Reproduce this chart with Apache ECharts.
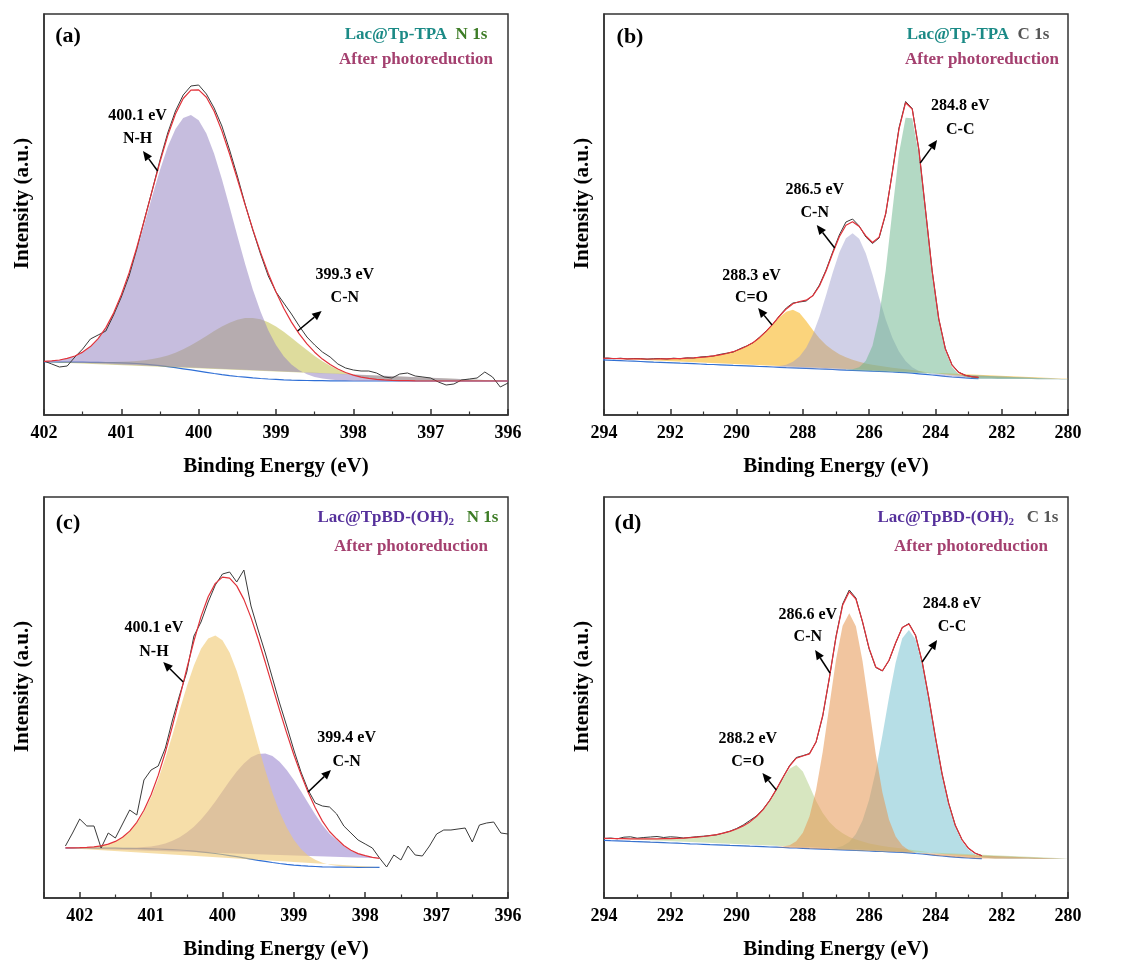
<!DOCTYPE html>
<html>
<head>
<meta charset="utf-8">
<script src="https://cdn.jsdelivr.net/npm/echarts@6/dist/echarts.min.js"></script>
<style>
  html, body { margin: 0; padding: 0; background: #fff; }
  #chart { width: 1121px; height: 963px; }
</style>
</head>
<body>
<div id="chart"></div>
<script>
// ---------- (a) Lac@Tp-TPA, N 1s ----------
const energyA = [402.0,401.9,401.8,401.7,401.6,401.5,401.4,401.3,401.2,401.1,401.0,400.9,400.8,400.7,400.6,400.5,400.4,400.3,400.2,400.1,400.0,399.9,399.8,399.7,399.6,399.5,399.4,399.3,399.2,399.1,399.0,398.9,398.8,398.7,398.6,398.5,398.4,398.3,398.2,398.1,398.0,397.9,397.8,397.7,397.6,397.5,397.4,397.3,397.2,397.1,397.0,396.9,396.8,396.7,396.6,396.5,396.4,396.3,396.2,396.1,396.0];
const rawA = [54,51,48,49,58,66,76,80,84,100,118,139,166,196,225,255,282,304,320,329,330,321,307,289,265,239,211,185,161,139,123,112,101,89,78,70,63,58,51,47,45,44,44,42,38,37,41,42,39,38,37,33,30,31,35,36,37,43,38,28,32];
const fitA = [53.7,54.2,55.0,56.6,59.0,62.9,68.4,76.4,87.4,101.9,120.2,142.1,167.5,195.5,224.6,253.2,279.4,301.0,316.5,324.8,325.1,317.8,303.7,284.1,261.0,236.0,210.4,185.6,162.6,141.6,123.0,106.8,92.9,81.1,71.1,62.8,55.9,50.4,46.0,42.5,39.9,37.9,36.6,35.7,35.1,34.7,34.4,34.3,34.1,34.0,34.0,34.0,34.0,34.0,34.0,34.0,34.0,34.0,34.0,34.0,34.0];
const bgA = [53.0,53.0,52.9,52.9,52.8,52.8,52.7,52.6,52.5,52.4,52.2,51.9,51.5,50.9,50.2,49.4,48.4,47.3,46.2,45.1,43.9,42.7,41.5,40.4,39.4,38.5,37.8,37.1,36.5,36.0,35.6,35.2,34.9,34.7,34.5,34.4,34.3,34.2,34.1,34.1,34.0,34.0,34.0,34.0,34.0,34.0,34.0,34.0,34.0,34.0,34.0,34.0,34.0,34.0,34.0,34.0,34.0,34.0,34.0,34.0,34.0];
const nhA = [53.7,54.2,55.0,56.6,59.0,62.8,68.3,76.2,87.0,101.2,119.1,140.4,164.9,191.6,218.9,245.1,268.2,286.0,297.0,300.1,294.7,281.4,261.3,236.1,208.1,179.2,151.2,125.6,103.4,84.8,70.1,58.8,50.5,44.7,40.7,38.1,36.4,35.4,34.8,34.4,34.2,34.0,34.0,34.0,34.0,34.0,34.0,34.0,34.0,34.0,34.0,34.0,34.0,34.0,34.0,34.0,34.0,34.0,34.0,34.0,34.0];
const cnA = [53.0,53.0,52.9,52.9,52.8,52.8,52.7,52.8,52.9,53.1,53.3,53.6,54.1,54.8,55.9,57.5,59.6,62.3,65.7,69.8,74.3,79.1,83.9,88.4,92.3,95.3,97.0,97.1,95.7,92.8,88.5,83.2,77.3,71.1,64.9,59.1,53.8,49.2,45.3,42.2,39.7,37.9,36.6,35.7,35.1,34.7,34.4,34.3,34.1,34.0,34.0,34.0,34.0,34.0,34.0,34.0,34.0,34.0,34.0,34.0,34.0];

// ---------- (b) Lac@Tp-TPA, C 1s ----------
const energyB = [294.1,293.9,293.7,293.5,293.3,293.1,292.9,292.7,292.5,292.3,292.1,291.9,291.7,291.5,291.3,291.1,290.9,290.7,290.5,290.3,290.1,289.9,289.7,289.5,289.3,289.1,288.9,288.7,288.5,288.3,288.1,287.9,287.7,287.5,287.3,287.1,286.9,286.7,286.5,286.3,286.1,285.9,285.7,285.5,285.3,285.1,284.9,284.7,284.5,284.3,284.1,283.9,283.7,283.5,283.3,283.1,282.9,282.7,282.5,282.3,282.1,281.9,281.7,281.5,281.3,281.1,280.9,280.7,280.5,280.3,280.1,279.9];
const rawB = [56.5,57.0,56.3,56.8,56.0,56.5,56.4,55.8,56.3,56.5,56.0,56.8,56.3,57.2,57.0,58.0,58.5,59.0,60.6,61.8,63.0,66.2,69.0,72.3,78.0,84.3,91.0,99.5,107.0,112.0,113.0,114.0,119.5,130.0,145.0,163.0,180.0,193.0,196.0,189.0,178.0,171.5,177.0,201.0,243.0,287.0,313.5,306.5,265.0,205.0,144.5,96.0,66.3,50.3,42.8,39.8,38.2,37.6];
const fitB = [56.8,56.7,56.5,56.4,56.2,56.2,56.1,56.0,56.0,56.1,56.2,56.3,56.4,56.8,57.1,57.6,58.2,59.1,60.1,61.5,63.3,65.7,68.7,72.6,77.6,83.9,91.1,99.0,106.1,111.2,113.5,114.8,119.2,129.0,144.0,161.7,178.3,189.8,193.3,188.5,179.1,172.5,177.9,201.7,242.3,285.9,312.3,305.9,265.6,205.2,144.1,96.4,65.9,49.9,42.6,39.6,38.4,37.6];
const bgB = [55.1,54.9,54.6,54.3,54.0,53.8,53.5,53.2,52.9,52.7,52.4,52.1,51.8,51.6,51.3,51.0,50.7,50.5,50.2,49.9,49.6,49.4,49.1,48.8,48.5,48.3,48.0,47.7,47.4,47.2,46.9,46.6,46.3,46.0,45.8,45.5,45.2,44.9,44.7,44.4,44.1,43.8,43.6,43.3,43.0,42.7,42.3,41.8,41.2,40.6,40.0,39.3,38.6,38.0,37.6,37.1,36.7,36.3];
const coB = [56.8,56.7,56.5,56.4,56.2,56.2,56.1,56.0,56.0,56.1,56.2,56.3,56.4,56.8,57.1,57.6,58.2,59.1,60.1,61.5,63.3,65.7,68.7,72.6,77.5,83.7,90.6,97.7,103.2,105.2,101.9,94.1,85.0,76.8,70.1,64.9,60.8,57.7,55.3,53.3,51.6,50.3,49.2,48.2,47.3,46.5,45.7,44.9,44.0,43.1,42.3,41.4,40.5,39.8,39.2,38.6,38.1,37.6,37.5,37.3,37.1,37.0,36.9,36.8,36.7,36.6,36.5,36.4,36.3,36.2,36.1,36.1];
const cnB = [55.1,54.9,54.6,54.3,54.0,53.8,53.5,53.2,52.9,52.7,52.4,52.1,51.8,51.6,51.3,51.0,50.7,50.5,50.2,49.9,49.6,49.4,49.1,48.8,48.6,48.5,48.5,49.0,50.3,53.2,58.5,67.3,80.5,98.2,119.7,142.3,162.6,176.7,181.7,176.2,161.5,140.6,117.5,95.5,77.2,63.4,53.9,47.8,44.1,41.9,40.5,39.5,38.6,38.0,37.6,37.1,36.7,36.3,36.3,36.2,36.1,36.1,36.0,36.0,35.9,35.9,35.8,35.8,35.7,35.7,35.6,35.6];
const ccB = [55.1,54.9,54.6,54.3,54.0,53.8,53.5,53.2,52.9,52.7,52.4,52.1,51.8,51.6,51.3,51.0,50.7,50.5,50.2,49.9,49.6,49.4,49.1,48.8,48.5,48.3,48.0,47.7,47.4,47.2,46.9,46.6,46.3,46.0,45.8,45.5,45.2,45.2,45.7,47.8,54.2,69.2,98.4,144.6,203.8,261.4,297.3,296.8,259.9,201.4,141.3,94.1,64.0,48.1,41.0,38.1,37.0,36.3,36.3,36.2,36.1,36.1,36.0,36.0,35.9,35.9,35.8,35.8,35.7,35.7,35.6,35.6];

// ---------- (c) Lac@TpBD-(OH)2, N 1s ----------
const energyC = [402.2,402.1,402.0,401.9,401.8,401.7,401.6,401.5,401.4,401.3,401.2,401.1,401.0,400.9,400.8,400.7,400.6,400.5,400.4,400.3,400.2,400.1,400.0,399.9,399.8,399.7,399.6,399.5,399.4,399.3,399.2,399.1,399.0,398.9,398.8,398.7,398.6,398.5,398.4,398.3,398.2,398.1,398.0,397.9,397.8,397.7,397.6,397.5,397.4,397.3,397.2,397.1,397.0,396.9,396.8,396.7,396.6,396.5,396.4,396.3,396.2,396.1,396.0];
const rawC = [52,65,79,72,72,50,65,60,74,88,83,118,128,132,150,178,203,226,262,276,296,313,324,326,316,328,292,268,245,220,195,172,148,126,108,95,92,91,84,72,65,58,54,50,40,31,43,38,52,43,42,52,64,68,68,69,70,56,73,75,76,65,64];
const fitC = [50.1,50.2,50.4,50.7,51.2,52.2,53.9,56.6,60.8,66.9,75.7,87.7,103.2,122.6,145.7,172.1,200.4,229.4,257.0,281.6,301.3,314.6,320.9,319.9,312.1,298.6,280.4,259.0,235.7,211.7,187.9,164.9,143.3,123.6,105.8,90.3,76.9,66.5,59.2,52.5,47.7,44.4,42.3,40.7,39.7];
const bgC = [50.0,50.0,50.0,50.0,49.9,49.9,49.8,49.8,49.7,49.6,49.5,49.4,49.2,49.0,48.7,48.4,48.0,47.5,46.9,46.2,45.4,44.5,43.5,42.4,41.3,40.1,38.9,37.7,36.6,35.5,34.5,33.6,32.9,32.3,31.8,31.5,31.2,31.0,30.9,30.8,30.8,30.7,30.7,30.7,30.7];
const nhC = [50.1,50.2,50.4,50.7,51.2,52.2,53.8,56.5,60.5,66.4,74.8,86.2,100.8,118.8,139.8,163.3,187.7,211.5,232.6,249.2,259.6,262.5,257.7,245.4,227.0,204.1,178.6,152.6,127.7,105.3,86.1,70.4,58.2,49.1,42.6,38.2,35.2,33.3,32.2,31.5,31.2,30.9,30.8,30.7,30.7];
const cnC = [50.0,50.0,50.0,50.0,49.9,49.9,49.9,50.0,50.0,50.1,50.4,50.9,51.6,52.8,54.6,57.2,60.7,65.4,71.3,78.6,87.1,96.6,106.7,116.9,126.4,134.6,140.7,144.1,144.6,141.9,136.3,128.1,118.0,106.8,95.0,83.6,72.9,64.2,57.9,51.8,47.3,44.2,42.2,40.7,39.7];

// ---------- (d) Lac@TpBD-(OH)2, C 1s ----------
const energyD = [294.0,293.8,293.6,293.4,293.2,293.0,292.8,292.6,292.4,292.2,292.0,291.8,291.6,291.4,291.2,291.0,290.8,290.6,290.4,290.2,290.0,289.8,289.6,289.4,289.2,289.0,288.8,288.6,288.4,288.2,288.0,287.8,287.6,287.4,287.2,287.0,286.8,286.6,286.4,286.2,286.0,285.8,285.6,285.4,285.2,285.0,284.8,284.6,284.4,284.2,284.0,283.8,283.6,283.4,283.2,283.0,282.8,282.6,282.4,282.2,282.0,281.8,281.6,281.4,281.2,281.0,280.8,280.6,280.4,280.2,280.0];
const rawD = [59.5,60.0,59.2,60.8,61.2,59.8,60.5,61.0,61.5,60.5,61.2,60.8,60.0,60.6,61.3,61.8,62.5,63.2,65.0,66.8,69.5,73.0,77.5,82.0,88.8,97.6,108.4,120.5,132.5,140.5,142.3,144.5,156.0,182.0,220.0,261.5,294.0,308.0,300.0,276.0,249.0,230.5,227.0,237.5,255.0,270.5,274.5,262.8,236.0,200.0,160.5,124.0,94.8,72.5,58.5,49.5,44.8,42.3];
const fitD = [59.7,59.5,59.4,59.3,59.2,59.2,59.2,59.1,59.2,59.3,59.4,59.7,59.9,60.3,60.9,61.5,62.3,63.4,64.8,66.6,69.0,72.1,76.1,81.5,88.4,97.5,108.6,120.7,131.9,139.8,142.0,144.1,156.3,182.5,220.2,260.9,292.7,306.3,299.0,276.4,249.6,231.0,227.2,237.7,255.2,270.4,274.1,262.5,236.4,200.4,160.8,124.4,94.6,72.7,58.4,49.7,44.8,42.3];
const bgD = [57.7,57.4,57.2,56.9,56.6,56.4,56.1,55.8,55.6,55.3,55.0,54.8,54.5,54.2,54.0,53.7,53.4,53.2,52.9,52.6,52.4,52.1,51.8,51.6,51.3,51.0,50.8,50.5,50.2,50.0,49.7,49.4,49.2,48.9,48.6,48.4,48.1,47.8,47.5,47.3,47.0,46.7,46.5,46.2,45.9,45.7,45.1,44.5,44.0,43.3,42.6,42.0,41.4,40.8,40.4,40.0,39.6,39.4];
const coD = [59.7,59.5,59.4,59.3,59.2,59.2,59.2,59.1,59.2,59.3,59.4,59.7,59.9,60.3,60.9,61.5,62.3,63.4,64.8,66.6,69.0,72.1,76.1,81.5,88.4,97.4,108.3,119.8,129.3,133.0,126.4,112.0,97.1,84.9,75.9,69.5,64.7,61.1,58.4,56.4,54.6,53.2,52.1,51.1,50.2,49.5,48.5,47.5,46.7,45.8,44.8,44.0,43.3,42.5,42.0,41.5,41.0,40.7,40.6,40.4,40.3,40.3,40.1,40.0,40.0,39.8,39.8,39.7,39.6,39.6,39.5];
const cnD = [57.7,57.4,57.2,56.9,56.6,56.4,56.1,55.8,55.6,55.3,55.0,54.8,54.5,54.2,54.0,53.7,53.4,53.2,52.9,52.6,52.4,52.1,51.8,51.6,51.3,51.1,51.1,51.4,52.8,56.8,65.3,81.5,108.3,146.3,192.3,238.2,272.3,284.8,271.7,237.1,190.7,144.1,105.6,78.3,61.5,52.5,47.7,45.4,44.3,43.4,42.6,42.0,41.4,40.8,40.4,40.0,39.6,39.4,39.4,39.3,39.3,39.3,39.2,39.2,39.2,39.1,39.1,39.1,39.0,39.0,39.0];
const ccD = [57.7,57.4,57.2,56.9,56.6,56.4,56.1,55.8,55.6,55.3,55.0,54.8,54.5,54.2,54.0,53.7,53.4,53.2,52.9,52.6,52.4,52.1,51.8,51.6,51.3,51.0,50.8,50.5,50.2,50.0,49.7,49.4,49.3,49.1,49.2,50.0,51.9,56.0,63.9,77.5,98.3,127.1,162.5,200.7,235.3,259.8,268.1,258.6,233.4,197.8,158.6,122.4,92.7,71.0,56.8,48.2,43.4,41.0,40.0,39.5,39.4,39.3,39.2,39.2,39.2,39.1,39.1,39.1,39.0,39.0,39.0];

// ---------- peak annotations: [panel, line1, line2, textE, v1, v2, arrow tail [E,v], arrow head [E,v]] ----------
const peakNotes = [
  [0, '400.1 eV', 'N-H', 400.79, 299, 276, [400.53, 244], [400.72, 264]],
  [0, '399.3 eV', 'C-N', 398.11, 140, 117, [398.72, 84], [398.41, 104]],
  [1, '284.8 eV', 'C-C', 283.25, 309, 285, [284.46, 252], [283.95, 275]],
  [1, '286.5 eV', 'C-N', 287.64, 225, 202, [287.04, 167], [287.58, 190]],
  [1, '288.3 eV', 'C=O', 289.55, 139, 117, [288.93, 90], [289.35, 107]],
  [2, '400.1 eV', 'N-H', 400.96, 270, 246, [400.55, 216], [400.83, 236]],
  [2, '399.4 eV', 'C-N', 398.26, 160, 136, [398.80, 106], [398.48, 128]],
  [3, '286.6 eV', 'C-N', 287.85, 283, 261, [287.18, 225], [287.63, 248]],
  [3, '284.8 eV', 'C-C', 283.5, 294, 271, [284.40, 236], [283.95, 258]],
  [3, '288.2 eV', 'C=O', 289.66, 159, 136, [288.80, 108], [289.22, 125]]
];

const FONT = '"Liberation Serif", "Times New Roman", serif';
const INK = '#333';

const gridRects = [
  { left: 44, top: 14, width: 464, height: 401 },
  { left: 604, top: 14, width: 464, height: 401 },
  { left: 44, top: 497, width: 464, height: 401 },
  { left: 604, top: 497, width: 464, height: 401 }
];

function xAxisDef(gi, min, max, interval, showMax) {
  return {
    gridIndex: gi, type: 'value', inverse: true, min: min, max: max, interval: interval,
    name: 'Binding Energy (eV)', nameLocation: 'middle', nameGap: 41,
    nameTextStyle: { fontFamily: FONT, fontWeight: 'bold', fontSize: 21, color: '#000' },
    axisLine: { show: true, onZero: false, lineStyle: { color: INK, width: 1.5 } },
    axisTick: { show: true, inside: true, length: 6, lineStyle: { color: INK, width: 1.5 } },
    minorTick: { show: true, splitNumber: 2, length: 3.5, lineStyle: { color: INK, width: 1.2 } },
    axisLabel: { fontFamily: FONT, fontWeight: 'bold', fontSize: 18, color: '#000', margin: 9,
      showMinLabel: true, showMaxLabel: showMax },
    splitLine: { show: false }, minorSplitLine: { show: false }
  };
}

function yAxisDef(gi) {
  return {
    gridIndex: gi, type: 'value', min: 0, max: 401,
    name: 'Intensity (a.u.)', nameLocation: 'middle', nameGap: 11, nameRotate: 90,
    nameTextStyle: { fontFamily: FONT, fontWeight: 'bold', fontSize: 21, color: '#000', padding: [0, 0, 0, 22] },
    axisLine: { show: true, lineStyle: { color: INK, width: 1.5 } },
    axisTick: { show: false }, axisLabel: { show: false }, splitLine: { show: false }
  };
}

function pairs(xs, ys) { return ys.map((y, k) => [xs[k], y]); }

function curve(gi, xs, ys, color, width, z) {
  return {
    type: 'line', xAxisIndex: gi, yAxisIndex: gi, data: pairs(xs, ys),
    symbol: 'none', showSymbol: false, silent: true, z: z,
    lineStyle: { color: color, width: width }
  };
}

// a fitted component drawn as a closed filled outline (closing edge runs straight between its ends)
function band(gi, xs, ys, color) {
  const pts = pairs(xs, ys);
  return {
    type: 'custom', xAxisIndex: gi, yAxisIndex: gi, data: pts, silent: true, clip: true, z: 1,
    renderItem: function (params, api) {
      if (params.dataIndex !== 0) return null;
      return { type: 'polygon', shape: { points: pts.map(p => api.coord(p)) }, style: { fill: color } };
    }
  };
}

function spectrumSet(gi, xs, raw, fit, bg) {
  return [
    curve(gi, xs.slice(0, bg.length), bg, '#2f6fd6', 1.2, 0),
    curve(gi, xs.slice(0, raw.length), raw, '#3a3a3a', 1, 3),
    curve(gi, xs.slice(0, fit.length), fit, '#e2323a', 1.2, 4)
  ];
}

const series = [
  // (a)
  band(0, energyA, cnA, 'rgba(190,186,60,0.5)'),
  band(0, energyA, nhA, 'rgba(146,128,192,0.52)'),
  ...spectrumSet(0, energyA, rawA, fitA, bgA),
  // (b)
  band(1, energyB, coB, 'rgba(248,186,44,0.62)'),
  band(1, energyB, cnB, 'rgba(150,150,202,0.45)'),
  band(1, energyB, ccB, 'rgba(110,182,142,0.52)'),
  ...spectrumSet(1, energyB, rawB, fitB, bgB),
  // (c)
  band(2, energyC.slice(0, cnC.length), cnC, 'rgba(138,114,200,0.5)'),
  band(2, energyC.slice(0, nhC.length), nhC, 'rgba(240,200,112,0.6)'),
  ...spectrumSet(2, energyC, rawC, fitC, bgC),
  // (d)
  band(3, energyD, ccD, 'rgba(110,190,205,0.5)'),
  band(3, energyD, coD, 'rgba(175,205,130,0.5)'),
  band(3, energyD, cnD, 'rgba(230,150,80,0.55)'),
  ...spectrumSet(3, energyD, rawD, fitD, bgD)
];

const chart = echarts.init(document.getElementById('chart'), null, { renderer: 'canvas' });
chart.setOption({
  animation: false,
  backgroundColor: '#fff',
  grid: gridRects.map(g => Object.assign({ show: true, borderColor: INK, borderWidth: 1.5 }, g)),
  xAxis: [xAxisDef(0, 396, 402, 1, true), xAxisDef(1, 280, 294, 2, true),
          xAxisDef(2, 396, 402.5, 1, false), xAxisDef(3, 280, 294, 2, true)],
  yAxis: [0, 1, 2, 3].map(yAxisDef),
  series: series
});

// ---------- text and arrows ----------
const TEAL = '#1b8a86', GREEN = '#3d7c26', GREY = '#555555', MAGENTA = '#a4406f', VIOLET = '#55309b';

function label(x, y, text, size, color) {
  return { type: 'text', x: x, y: y, z: 30, silent: true,
    style: { text: text, fontFamily: FONT, fontWeight: 'bold', fontSize: size, fill: color || '#000',
      align: 'center', verticalAlign: 'middle' } };
}

function richLabel(x, y, text, rich) {
  return { type: 'text', x: x, y: y, z: 30, silent: true,
    style: { text: text, rich: rich, fontFamily: FONT, fontWeight: 'bold', fontSize: 17,
      align: 'center', verticalAlign: 'middle' } };
}

function arrow(p0, p1) {
  const dx = p1[0] - p0[0], dy = p1[1] - p0[1];
  const L = Math.hypot(dx, dy), ux = dx / L, uy = dy / L;
  const hl = 9.5, hw = 4.2;
  const bx = p1[0] - ux * hl, by = p1[1] - uy * hl;
  return [
    { type: 'line', z: 30, silent: true, shape: { x1: p0[0], y1: p0[1], x2: bx, y2: by },
      style: { stroke: '#000', lineWidth: 1.5 } },
    { type: 'polygon', z: 30, silent: true,
      shape: { points: [[p1[0], p1[1]], [bx - uy * hw, by + ux * hw], [bx + uy * hw, by - ux * hw]] },
      style: { fill: '#000' } }
  ];
}

const tok = (c) => ({ fill: c, fontFamily: FONT, fontWeight: 'bold', fontSize: 17, lineHeight: 20 });
const subTok = (c) => ({ fill: c, fontFamily: FONT, fontWeight: 'bold', fontSize: 11, lineHeight: 11, verticalAlign: 'bottom' });

const graphics = [
  label(68, 36, '(a)', 22), label(630, 37, '(b)', 22), label(68, 523, '(c)', 22), label(628, 523, '(d)', 22),
  richLabel(416, 35, '{t|Lac@Tp-TPA}  {n|N 1s}', { t: tok(TEAL), n: tok(GREEN) }),
  label(416, 60, 'After photoreduction', 17, MAGENTA),
  richLabel(978, 35, '{t|Lac@Tp-TPA}  {c|C 1s}', { t: tok(TEAL), c: tok(GREY) }),
  label(982, 60, 'After photoreduction', 17, MAGENTA),
  richLabel(408, 518, '{p|Lac@TpBD-(OH)}{s|2}   {n|N 1s}', { p: tok(VIOLET), s: subTok(VIOLET), n: tok(GREEN) }),
  label(411, 547, 'After photoreduction', 17, MAGENTA),
  richLabel(968, 518, '{p|Lac@TpBD-(OH)}{s|2}   {c|C 1s}', { p: tok(VIOLET), s: subTok(VIOLET), c: tok(GREY) }),
  label(971, 547, 'After photoreduction', 17, MAGENTA)
];

peakNotes.forEach(function (n) {
  const gi = n[0];
  const toPx = (pt) => chart.convertToPixel({ gridIndex: gi }, pt);
  const a = toPx([n[3], n[4]]), b = toPx([n[3], n[5]]);
  graphics.push(label(a[0], a[1], n[1], 16));
  graphics.push(label(b[0], b[1], n[2], 16));
  arrow(toPx(n[6]), toPx(n[7])).forEach(g => graphics.push(g));
});

chart.setOption({ graphic: graphics });
</script>
</body>
</html>
